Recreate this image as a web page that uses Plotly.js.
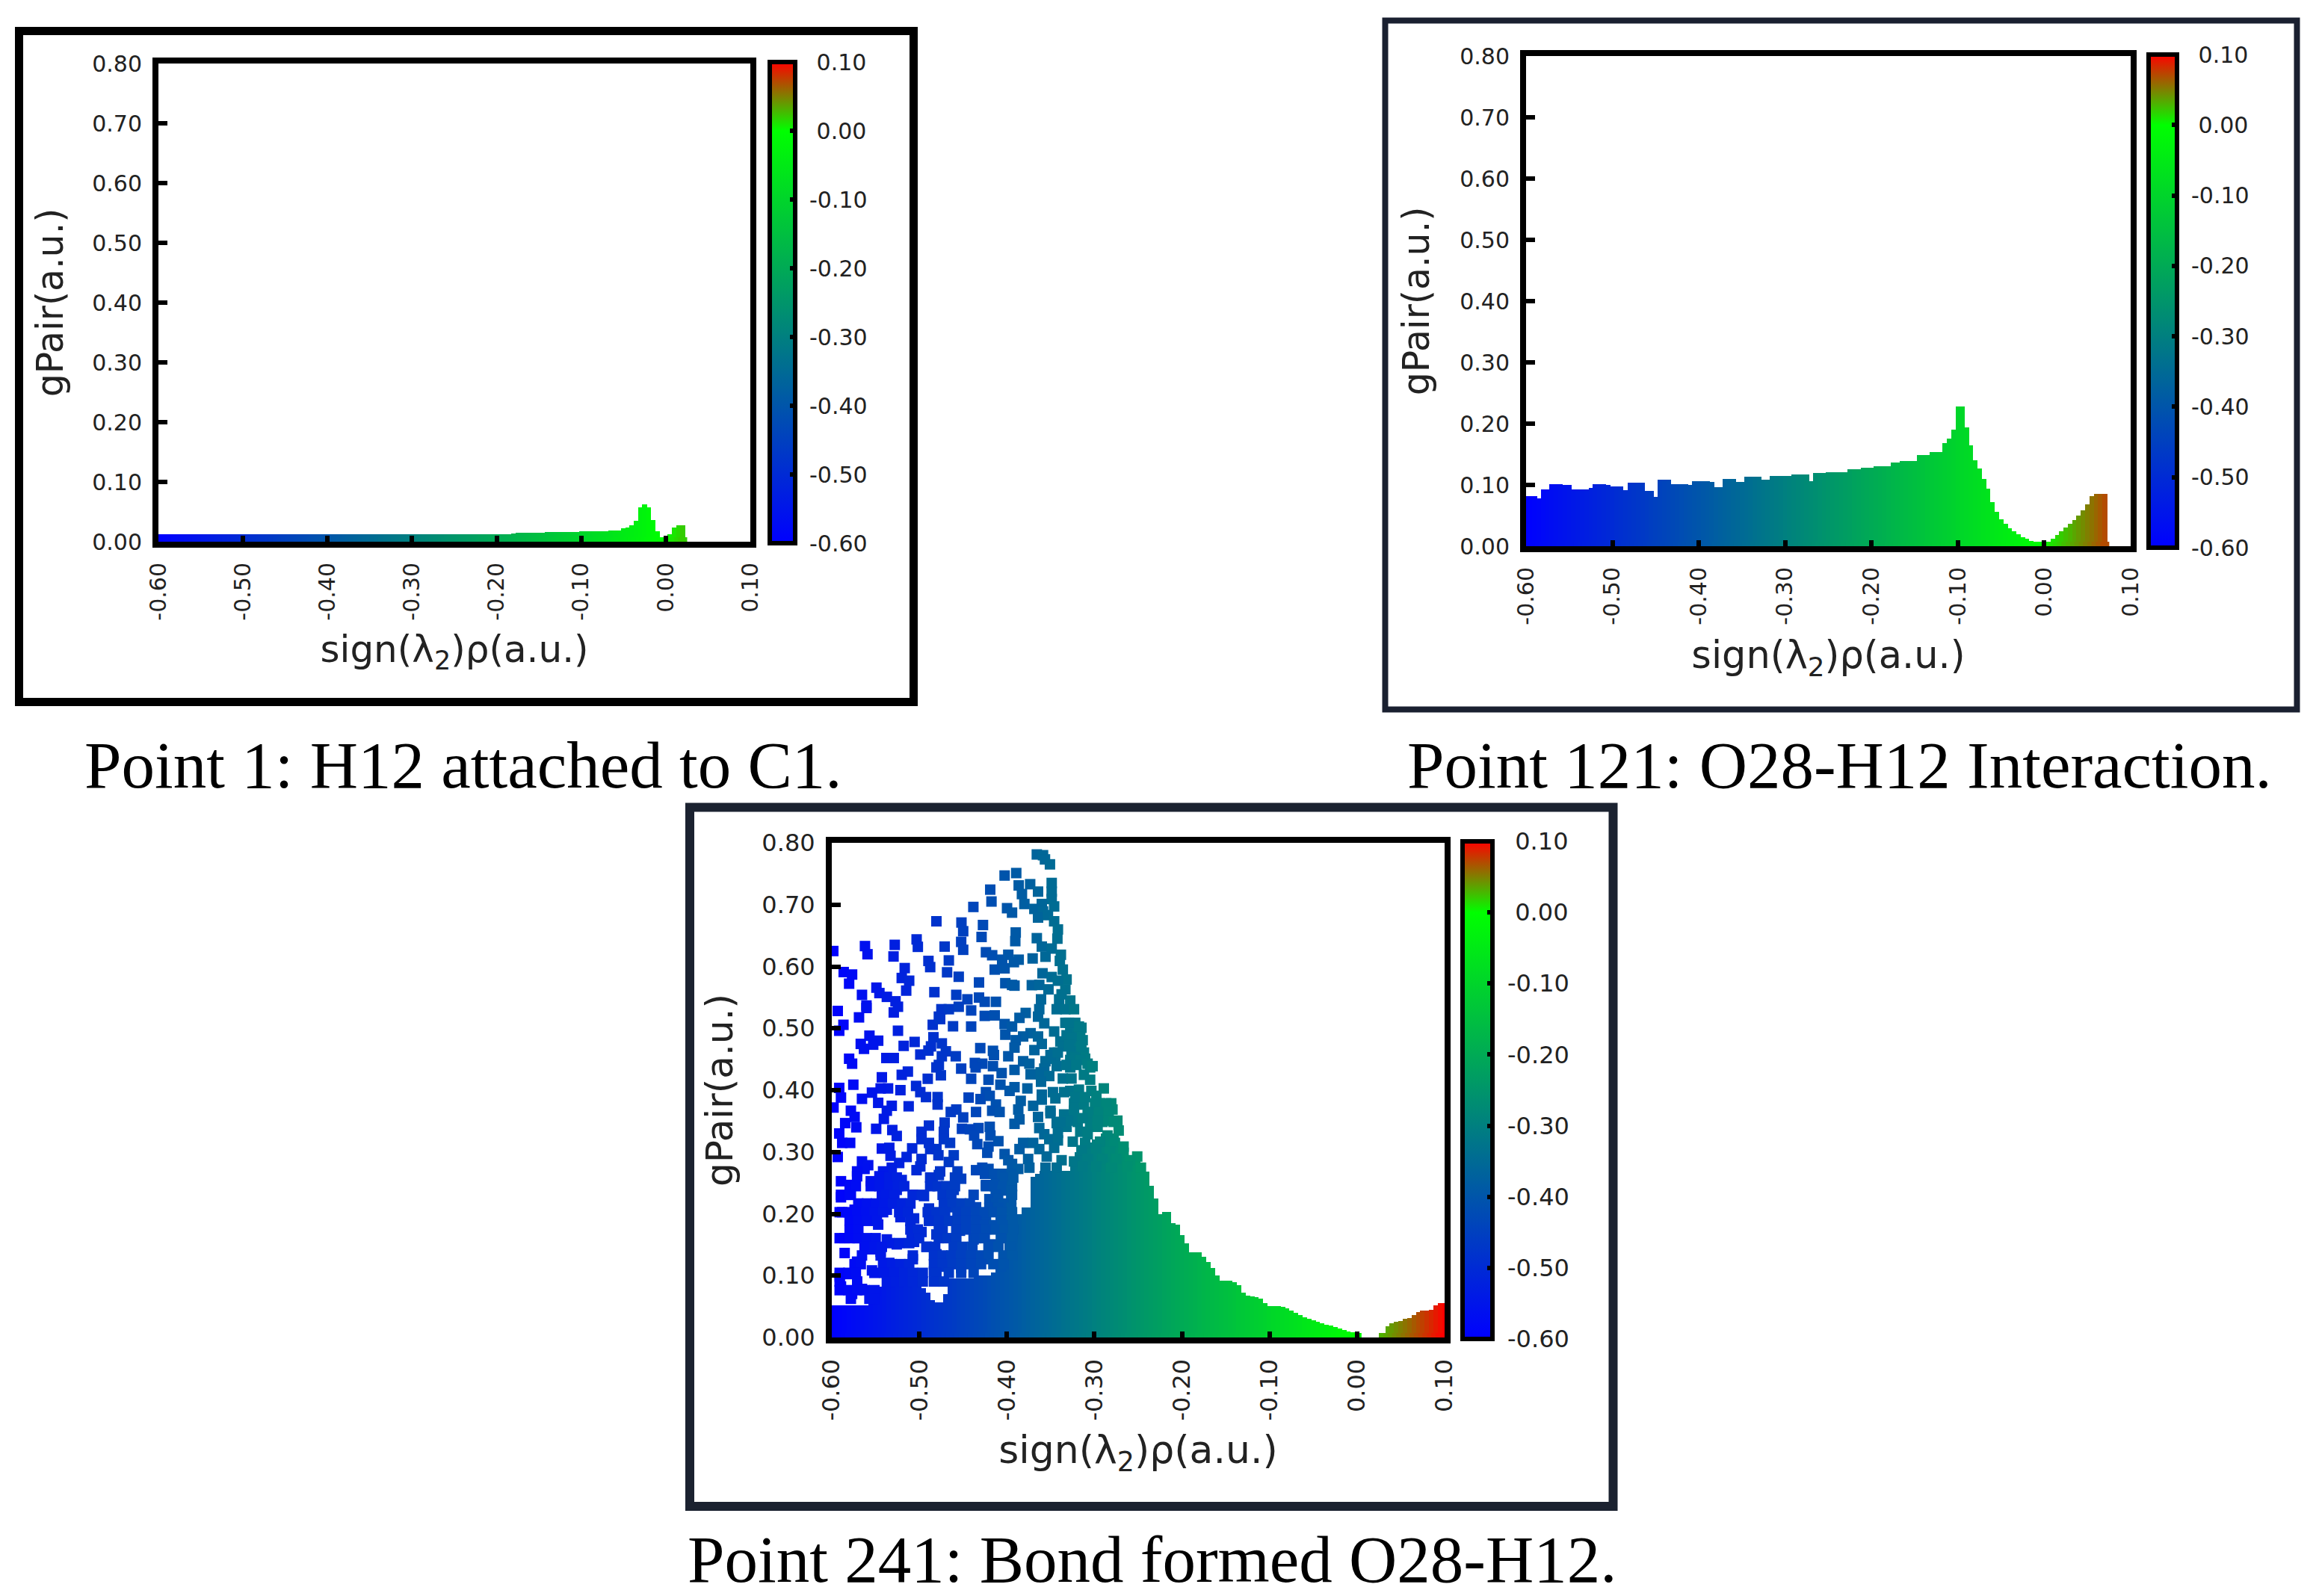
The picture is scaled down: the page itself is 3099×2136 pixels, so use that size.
<!DOCTYPE html>
<html>
<head>
<meta charset="utf-8">
<script src="https://cdn.plot.ly/plotly-3.0.1.min.js"></script>
<style>html,body{margin:0;padding:0;background:#fff}</style>
</head>
<body>
<div id="chart" style="width:3099px;height:2136px"></div>
<script>
// Density column positions, sign(lambda2)rho (a.u.)
var rhoGrid = [
-0.6,-0.595,-0.59,-0.585,-0.58,-0.575,-0.57,-0.565,-0.56,-0.555,
-0.55,-0.545,-0.54,-0.535,-0.53,-0.525,-0.52,-0.515,-0.51,-0.505,
-0.5,-0.495,-0.49,-0.485,-0.48,-0.475,-0.47,-0.465,-0.46,-0.455,
-0.45,-0.445,-0.44,-0.435,-0.43,-0.425,-0.42,-0.415,-0.41,-0.405,
-0.4,-0.395,-0.39,-0.385,-0.38,-0.375,-0.37,-0.365,-0.36,-0.355,
-0.35,-0.345,-0.34,-0.335,-0.33,-0.325,-0.32,-0.315,-0.31,-0.305,
-0.3,-0.295,-0.29,-0.285,-0.28,-0.275,-0.27,-0.265,-0.26,-0.255,
-0.25,-0.245,-0.24,-0.235,-0.23,-0.225,-0.22,-0.215,-0.21,-0.205,
-0.2,-0.195,-0.19,-0.185,-0.18,-0.175,-0.17,-0.165,-0.16,-0.155,
-0.15,-0.145,-0.14,-0.135,-0.13,-0.125,-0.12,-0.115,-0.11,-0.105,
-0.1,-0.095,-0.09,-0.085,-0.08,-0.075,-0.07,-0.065,-0.06,-0.055,
-0.05,-0.045,-0.04,-0.035,-0.03,-0.025,-0.02,-0.015,-0.01,-0.005,
0,0.005,0.01,0.015,0.02,0.025,0.03,0.035,0.04,0.045,
0.05,0.055,0.06,0.065,0.07,0.075,0.08,0.085,0.09,0.095,
0.1,0.105];

// Panel "Point 1": top of the filled gPair band per column
var gPairPoint1 = [
.012,.012,.012,.013,.013,.013,.012,.012,.012,.012,
.012,.012,.012,.012,.012,.012,.012,.012,.012,.012,
.012,.012,.012,.012,.012,.013,.013,.012,.012,.012,
.012,.012,.012,.012,.012,.012,.012,.012,.012,.012,
.012,.012,.012,.012,.012,.012,.012,.012,.012,.012,
.012,.012,.012,.012,.012,.012,.012,.012,.012,.012,
.012,.012,.012,.012,.012,.012,.012,.012,.012,.012,
.012,.012,.012,.012,.012,.012,.012,.012,.012,.012,
.012,.012,.013,.013,.014,.015,.015,.015,.015,.015,
.015,.015,.016,.016,.016,.016,.016,.016,.016,.016,
.017,.017,.018,.018,.018,.018,.018,.019,.019,.019,
.022,.024,.027,.035,.058,.062,.058,.036,.018,.006,
0,.012,.024,.027,.027,null,null,null,null,null,
null,null,null,null,null,null,null,null,null,null,
null,null];

// Panel "Point 121": top of the filled gPair band per column
var gPairPoint121 = [
.082,.082,.082,.078,.093,.093,.101,.101,.101,.1,
.1,.093,.093,.093,.093,.095,.101,.101,.101,.1,
.098,.097,.097,.092,.104,.104,.104,.104,.09,.09,
.08,.108,.108,.108,.101,.101,.101,.101,.1,.106,
.106,.106,.106,.105,.096,.096,.11,.11,.11,.105,
.105,.113,.113,.113,.113,.109,.109,.115,.115,.115,
.115,.115,.117,.117,.117,.117,.106,.12,.12,.12,
.121,.121,.121,.121,.121,.126,.126,.126,.128,.128,
.128,.13,.13,.13,.13,.136,.136,.139,.139,.139,
.139,.149,.149,.149,.154,.154,.154,.168,.176,.19,
.228,.228,.194,.165,.14,.127,.11,.094,.072,.056,
.044,.036,.029,.024,.019,.015,.012,.009,.007,.004,
0,.006,.012,.018,.024,.03,.036,.043,.05,.058,
.068,.082,.085,.085,.085,null,null,null,null,null,
null,null];

// Panel "Point 241": solid part of the gPair cloud per column
var gPairPoint241 = [
.052,.052,.052,.052,.052,.052,.052,.052,.052,.075,
.082,.082,.082,.082,.082,.082,.082,.082,.082,.082,
.082,.08,.072,.06,.057,.057,.07,.095,.095,.095,
.095,.095,.095,.1,.1,.1,.1,.105,.12,.13,
.16,.17,.2,.2,.21,.21,.26,.265,.27,.27,
.27,.27,.27,.27,.27,.29,.3,.31,.31,.315,
.32,.325,.33,.33,.33,.33,.31,.3,.295,.29,
.285,.272,.268,.245,.225,.2,.203,.203,.185,.183,
.165,.152,.138,.138,.138,.13,.122,.112,.1,.092,
.092,.092,.09,.085,.072,.068,.066,.065,.063,.055,
.051,.051,.051,.05,.047,.043,.04,.036,.033,.03,
.028,.025,.023,.021,.019,.017,.014,.012,.01,.008,
.005,null,null,null,null,null,.005,.018,.023,.025,
.027,.03,.032,.036,.041,.043,.044,.045,.052,.056,
.056,.056];

// Panel "Point 241": individually visible points [rho, gPair]
var pointsPoint241 = [
[-.4026,.7471],[-.3893,.7511],[-.419,.7243],[-.4176,.7051],[-.4383,.6963],[-.3998,.6943],[-.3941,.6871],[-.4805,.6731],
[-.4519,.6711],[-.4273,.6671],[-.4499,.657],[-.4289,.6478],[-.3899,.655],[-.4522,.6398],[-.4499,.627],[-.4711,.6322],
[-.5031,.6438],[-.5017,.6318],[-.5281,.635],[-.5621,.633],[-.5592,.6198],[-.5983,.625],[-.5295,.6162],[-.4896,.609],
[-.4876,.599],[-.4663,.6098],[-.4239,.623],[-.4168,.6182],[-.5167,.5974],[-.4683,.5906],[-.4139,.595],[-.4026,.597],
[-.4054,.611],[-.3984,.619],[-.5864,.591],[-.5768,.587],[-.5802,.5722],[-.455,.5834],[-.5201,.5814],[-.5116,.577],
[-.4318,.5742],[-.4018,.573],[-.3941,.5702],[-.549,.5658],[-.5456,.557],[-.5371,.5509],[-.5272,.5437],[-.515,.561],
[-.4828,.5585],[-.4578,.5541],[-.4451,.5469],[-.4318,.5497],[-.4253,.5429],[-.4125,.5429],[-.5655,.5541],[-.5604,.5369],
[-.3658,.7812],[-.3587,.78],[-.3565,.7732],[-.3508,.7652],[-.3865,.7311],[-.3734,.7331],[-.3488,.7351],[-.3644,.7211],
[-.3828,.7171],[-.3488,.7211],[-.38,.7011],[-.3488,.7091],[-.3601,.7011],[-.346,.6971],[-.3686,.6931],[-.3587,.6891],
[-.3644,.6791],[-.3531,.6831],[-.346,.6731],[-.3417,.6599],[-.3904,.641],[-.3658,.6458],[-.3423,.645],[-.3601,.6322],
[-.3488,.629],[-.3383,.619],[-.3559,.6158],[-.3865,.611],[-.3706,.613],[-.392,.607],[-.3395,.609],[-.3361,.595],
[-.3593,.589],[-.3488,.583],[-.3318,.579],[-.3417,.577],[-.3913,.569],[-.3715,.5698],[-.363,.5702],[-.3525,.563],
[-.3332,.563],[-.361,.5469],[-.3403,.5469],[-.3276,.5449],[-.3375,.555],
[-.5932,.5281],[-.5604,.5329],[-.5689,.5177],[-.5292,.5257],[-.5244,.5349],[-.4748,.5309],[-.4663,.5309],[-.455,.5349],
[-.4408,.5289],[-.4777,.5189],[-.4253,.5201],[-.4139,.5209],[-.4847,.5057],[-.4762,.5149],[-.4615,.5033],[-.4408,.5029],
[-.4026,.5069],[-.3941,.5029],[-.5867,.5057],[-.5915,.4961],[-.5244,.4961],[-.4018,.4897],[-.557,.4881],[-.547,.48],
[-.5669,.4748],[-.5527,.4736],[-.5632,.4668],[-.5054,.478],[-.4839,.4856],[-.4743,.4756],[-.5179,.4716],[-.4867,.4708],
[-.4304,.468],[-.4159,.4636],[-.4989,.4576],[-.4896,.464],[-.4697,.4628],[-.4148,.4568],[-.3984,.4548],[-.4584,.4548],
[-.4743,.4548],[-.5377,.452],[-.5292,.452],[-.5802,.4508],[-.5768,.4428],[-.4366,.444],[-.4281,.4428],[-.4777,.4408],
[-.4159,.4388],[-.4805,.4368],[-.4522,.4348],[-.4357,.4368],[-.5131,.43],[-.5201,.4248],[-.4754,.424],[-.406,.4276],
[-.5428,.4208],[-.4408,.4184],[-.4904,.4184],[-.421,.4168],[-.5754,.4088],[-.5915,.4036],[-.4074,.4088],[-.5037,.4068],
[-.5357,.4028],[-.5442,.4028],[-.5541,.396],[-.5216,.4],[-.4989,.3968],[-.4239,.3968],[-.3969,.3988],[-.5895,.388],
[-.5655,.386],[-.4924,.3888],[-.4791,.3888],[-.4437,.388],[-.4301,.3856],[-.4196,.3908],[-.547,.3795],[-.4791,.3767],
[-.4125,.3767],[-.5315,.3747],[-.5122,.3739],[-.598,.3719],[-.5371,.3667],[-.5782,.3667],[-.4578,.3687],[-.4641,.3647],
[-.4352,.3647],[-.4168,.3667],[-.4083,.3647],[-.5739,.3567],[-.4499,.3559],[-.5405,.3535],[-.5847,.3467],[-.4711,.3475],
[-.572,.3399],[-.5493,.3375],[-.489,.3427],[-.4513,.3375],[-.472,.3327],[-.4196,.3407],[-.4324,.3387],[-.4423,.3367],
[-.5309,.3355],[-.5915,.3299],[-.5258,.3259],[-.4975,.3327],[-.4374,.3267],[-.472,.3207],[-.4188,.3267],[-.4975,.3207],
[-.5881,.3147],[-.579,.3147],[-.489,.3147],[-.4649,.3147],[-.4097,.3175],[-.4338,.3127],[-.421,.3087],[-.5428,.3055],
[-.5343,.3067],[-.5082,.3059],[-.4805,.3047],[-.4876,.3047],[-.4224,.2987],[-.4026,.2967],[-.5329,.2939],[-.4782,.2947],
[-.4607,.2947],[-.5932,.2919],[-.5145,.2919],[-.3984,.2867],[-.4975,.2887],[-.5655,.2847],[-.4663,.2838],[-.3941,.2807],
[-.5584,.2786],[-.523,.2822],[-.4989,.2766],[-.5315,.2746],[-.4281,.2746],[-.5626,.2726],[-.5711,.2686],[-.5414,.2686],
[-.5032,.2706],[-.4762,.2686],[-.4564,.2686],[-.4352,.2706],[-.421,.2726],
[-.3431,.5309],[-.3332,.5309],[-.3233,.5309],[-.3785,.5249],[-.3856,.5169],[-.363,.5309],[-.3644,.5189],[-.3573,.5081],
[-.3332,.5089],[-.3219,.5089],[-.3148,.5009],[-.346,.4949],[-.3219,.4949],[-.3729,.4921],[-.3644,.4868],[-.3814,.4868],
[-.3899,.4808],[-.3601,.4748],[-.3389,.4788],[-.3219,.4768],[-.3134,.4808],[-.3913,.4688],[-.3686,.4648],[-.3191,.4648],
[-.346,.4608],[-.3262,.4628],[-.312,.4608],[-.3446,.4508],[-.3814,.4468],[-.3743,.4428],[-.3559,.4468],[-.3276,.4488],
[-.3106,.4508],[-.3913,.4328],[-.3573,.4348],[-.3431,.4388],[-.3276,.4368],[-.3049,.4368],[-.3729,.4256],[-.3615,.4288],
[-.3516,.4228],[-.3361,.4188],[-.3262,.4188],[-.3049,.4168],[-.312,.4248],[-.361,.4136],[-.3913,.4048],[-.3766,.4028],
[-.3276,.3988],[-.3177,.4008],[-.3035,.3988],[-.2893,.4028],[-.3601,.3927],[-.3474,.3968],[-.3346,.3968],[-.3842,.3827],
[-.3601,.3847],[-.3446,.3867],[-.2978,.3908],[-.3233,.3787],[-.387,.3687],[-.37,.3747],[-.3502,.3667],[-.312,.3767],
[-.2936,.3787],[-.2808,.3787],[-.2794,.3687],[-.3346,.3607],[-.3644,.3567],[-.3502,.3627],[-.3856,.3527],[-.3233,.3667],
[-.3077,.3607],[-.2738,.3507],[-.3913,.3455],[-.3431,.3467],[-.3191,.3487],[-.3049,.3447],[-.2908,.3487],[-.363,.3387],
[-.3318,.3407],[-.3162,.3327],[-.2964,.3407],[-.2723,.3347],[-.3573,.3287],[-.3417,.3307],[-.3077,.3287],[-.2851,.3267],
[-.3814,.3147],[-.37,.3147],[-.3516,.3207],[-.3417,.3187],[-.3247,.3167],[-.3106,.3147],[-.2936,.3167],[-.2766,.3147],
[-.2667,.3087],[-.3856,.3047],[-.363,.3047],[-.346,.3067],[-.3148,.3027],[-.2978,.3047],[-.2823,.3007],[-.2667,.2987],
[-.2511,.2927],[-.3757,.2887],[-.3545,.2927],[-.3375,.2867],[-.3233,.2847],[-.3077,.2887],[-.2908,.2887],[-.2752,.2887],
[-.2596,.2867],[-.2469,.2746],[-.3743,.2746],[-.387,.2726],[-.3559,.2746],[-.3431,.2746],[-.3134,.2766],[-.2978,.2766],
[-.2808,.2746],[-.2624,.2766],
[-.5895,.2527],[-.5782,.2467],[-.5711,.2607],[-.5555,.2527],[-.5456,.2607],[-.5895,.2267],[-.5782,.2307],[-.5428,.2287],
[-.5258,.2387],[-.5201,.2547],[-.5074,.2307],[-.4947,.2287],[-.4847,.2487],[-.472,.2347],[-.4607,.2387],[-.4522,.2567],
[-.4777,.2627],[-.5343,.2167],[-.5216,.2167],[-.5626,.2147],[-.5739,.2066],[-.5881,.2026],[-.5371,.2066],[-.5131,.2066],
[-.5584,.2006],[-.489,.2086],[-.4593,.2106],[-.438,.2307],[-.4239,.2467],[-.4125,.2547],[-.3984,.2507],[-.4125,.2347],
[-.4012,.2146],[-.4352,.2106],[-.4479,.1986],[-.5768,.1946],[-.564,.1966],[-.547,.1826],[-.5216,.1946],[-.506,.1926],
[-.4862,.1906],[-.472,.1986],[-.455,.1866],[-.5739,.1766],[-.5074,.1706],[-.4975,.1706],[-.4734,.1726],[-.4536,.1726],
[-.5853,.1606],[-.5711,.1606],[-.557,.1586],[-.5371,.1586],[-.5258,.1506],[-.506,.1546],[-.4918,.1466],[-.4805,.1666],
[-.438,.1806],[-.4239,.1906],[-.4069,.1946],[-.3955,.1906],[-.4012,.1626],[-.4182,.1506],[-.438,.1586],[-.4593,.1526],
[-.5541,.1426],[-.5442,.1386],[-.5853,.1366],[-.5711,.1226],[-.5343,.1206],[-.5074,.1266],[-.5145,.1146],[-.4805,.1346],
[-.4607,.1306],[-.438,.1306],[-.5796,.1025],[-.5909,.0985],[-.5541,.1085],[-.54,.1065],[-.5895,.0825],[-.5655,.0785],
[-.5768,.0705],[-.5513,.0745],[-.5286,.0985],[-.5117,.0985],[-.4833,.1065],[-.4748,.1145],[-.4522,.1125],[-.4239,.1266],
[-.4069,.1145],
[-.3276,.4969],[-.3163,.4888],[-.3177,.5029],[-.329,.5089],[-.3318,.4888],[-.3262,.4848],[-.3361,.4708],[-.329,.4728],
[-.3149,.4708],[-.3219,.4528],[-.3163,.4488],[-.3078,.4428],[-.3021,.4388],[-.3318,.4408],[-.3205,.4408],[-.3502,.4568],
[-.3418,.4608],[-.3219,.3887],[-.3106,.3887],[-.2993,.3787],[-.2866,.3787],[-.305,.3647],[-.2951,.3647],[-.2838,.3647],
[-.2965,.3507],[-.2838,.3507],[-.2781,.3487],[-.3234,.3547],[-.3135,.3547],[-.3304,.3507],[-.3389,.3487]
];

// Panel "Point 241": further points in the denser band, read row by row [gPair, [rho...]]
var denseRowsPoint241 = [
[.2647,[-.425,-.415,-.405,-.395]],
[.2587,[-.5343,-.5258,-.4876,-.4593,-.4026,-.3927]],
[.2447,[-.5796,-.5725,-.5555,-.5456,-.5343,-.5244,-.5173,-.4876,-.4791,-.4692,-.4593,-.4239,-.4139,-.404,-.3941]],
[.2377,[-.405,-.395]],
[.2307,[-.5895,-.5796,-.5385,-.5286,-.5074,-.4975,-.4734,-.4635,-.4125,-.3941]],
[.2237,[-.42,-.41,-.395]],
[.2167,[-.5697,-.5598,-.5499,-.54,-.53,-.5201,-.5102,-.472,-.4621,-.4522,-.4423,-.4125,-.404]],
[.2097,[-.42,-.41,-.395]],
[.2026,[-.591,-.581,-.571,-.5612,-.5513,-.5414,-.523,-.5131,-.4904,-.4805,-.4706,-.4564,-.4465,-.4352,-.4253,-.4154,-.4054,-.3941]],
[.1886,[-.5796,-.5697,-.5598,-.5485,-.5102,-.489,-.4777,-.4663,-.4564,-.4465,-.4352,-.4069,-.3941]],
[.1816,[-.425,-.415,-.405]],
[.1746,[-.5796,-.5697,-.5102,-.5017,-.4777,-.4578,-.4465,-.4352,-.4239,-.4125,-.4026,-.3927]],
[.1606,[-.591,-.5796,-.5697,-.5598,-.5499,-.5088,-.5003,-.4777,-.4678,-.4578,-.4352,-.4253,-.4069,-.3941]],
[.1526,[-.5343,-.523,-.5116]],
[.1466,[-.5626,-.5513,-.5428,-.4918,-.4819,-.4607,-.4508,-.4394,-.421,-.4097,-.3955]],
[.1326,[-.5655,-.5442,-.5074,-.4833,-.4734,-.4635,-.4522,-.4408,-.4295,-.421,-.404,-.3941]],
[.1186,[-.574,-.5669,-.5414,-.5315,-.5216,-.5116,-.4833,-.4734,-.4621,-.4522,-.4408,-.4295,-.4154,-.404]],
[.1045,[-.591,-.581,-.5725,-.5513,-.54,-.5286,-.5173,-.5074,-.4961,-.4805,-.4663,-.4522,-.438]],
[.0905,[-.591,-.571,-.5371,-.5272,-.5173,-.5074,-.4961,-.4833,-.472]],
[.0765,[-.591,-.581,-.571,-.5626,-.5513]],
[.0625,[-.5782,-.557,-.5513]]
];

// Axes and labels
var xTickValues = [-0.6,-0.5,-0.4,-0.3,-0.2,-0.1,0,0.1];
var xTickLabels = ['-0.60','-0.50','-0.40','-0.30','-0.20','-0.10','0.00','0.10'];
var yTickValues = [0,0.1,0.2,0.3,0.4,0.5,0.6,0.7,0.8];
var yTickLabels = ['0.00','0.10','0.20','0.30','0.40','0.50','0.60','0.70','0.80'];
var cbTickValues = [-0.6,-0.5,-0.4,-0.3,-0.2,-0.1,0,0.1];
var cbTickLabels = ['\u00a0-0.60','\u00a0-0.50','\u00a0-0.40','\u00a0-0.30','\u00a0-0.20','\u00a0-0.10','\u00a0\u00a00.00','\u00a0\u00a00.10'];
var xTitle = 'sign(\u03bb<sub>2</sub>)\u03c1(a.u.)';
var yTitle = 'gPair(a.u.)';
var captions = ['Point 1: H12 attached to C1.','Point 121: O28-H12 Interaction.','Point 241: Bond formed O28-H12.'];
var rhoColors = [[0,'rgb(0,0,255)'],[6/7,'rgb(0,255,0)'],[1,'rgb(255,0,0)']];

var W = 3099, H = 2136, FONT = 'DejaVu Sans, sans-serif', INSET = 2;
var panels = [
 {heights:gPairPoint1,  plot:[210,1006,83,727],  frame:[25.5,1222.5,41.5,939.5], fw:11, fc:'#000000', cb:[1030,34], tick:30, xs:24, ys:26, xt:50, yt:49, cap:[620,1024]},
 {heights:gPairPoint121,plot:[2040,2853,73,733], frame:[1853.5,3073.5,27.5,949.5], fw:8, fc:'#1a2030', cb:[2875,38], tick:30, xs:26, ys:28, xt:51, yt:49, cap:[2461,1024]},
 {heights:gPairPoint241,plot:[1111,1935,1126,1792], frame:[923,2158.5,1080.5,2016], fw:12, fc:'#1b2230', cb:[1957,40], tick:32, xs:24, ys:26, xt:52, yt:50, cap:[1541,2087]}
];

var data = [], shapes = [], annotations = [];
var layout = {width:W, height:H, margin:{l:0,r:0,t:0,b:0,pad:0}, paper_bgcolor:'#fff', plot_bgcolor:'rgba(0,0,0,0)',
  showlegend:false, barmode:'overlay', bargap:0, font:{family:FONT,color:'#222'}};

panels.forEach(function(p,i){
  var n = i===0 ? '' : String(i+1);
  var xa = 'x'+n, ya = 'y'+n, ca = 'coloraxis'+n;
  var xs = [];
  rhoGrid.forEach(function(x,k){ if (p.heights[k]!==null && p.heights[k]>0){ xs.push(x); } });
  data.push({type:'bar', x:rhoGrid, y:p.heights, width:.0055, xaxis:xa, yaxis:ya, cliponaxis:false,
    marker:{color:rhoGrid, coloraxis:ca, line:{width:0}}, hoverinfo:'x+y'});
  // Bottom row of points, which straddles the x axis line
  data.push({type:'scatter', mode:'markers', x:xs, y:xs.map(function(){return 0;}), xaxis:xa, yaxis:ya, cliponaxis:false,
    marker:{symbol:'square', size:12, color:xs, coloraxis:ca, line:{width:0}}, hoverinfo:'x+y'});
  if (i===2){
    var all = pointsPoint241.slice();
    denseRowsPoint241.forEach(function(r){ r[1].forEach(function(x){ all.push([x,r[0]]); }); });
    var px = all.map(function(d){return d[0];}), py = all.map(function(d){return d[1];});
    data.push({type:'scatter', mode:'markers', x:px, y:py, xaxis:xa, yaxis:ya, cliponaxis:false,
      marker:{symbol:'square', size:14, color:px, coloraxis:ca, line:{width:0}}, hoverinfo:'x+y'});
  }
  var tf = {family:FONT, size:p.tick, color:'#222'};
  layout['xaxis'+n] = {domain:[(p.plot[0]+INSET)/W,(p.plot[1]-INSET)/W], anchor:ya, range:[-0.6,0.1], tickmode:'array', tickvals:xTickValues, ticktext:xTickLabels,
    tickangle:-90, ticks:'inside', ticklen:8, tickwidth:6, tickcolor:'#000', showline:true, linecolor:'#000', linewidth:8, mirror:true,
    showgrid:false, zeroline:false, tickfont:tf, ticklabelstandoff:8, layer:'above traces',
    title:{text:xTitle, font:{family:FONT,size:p.xt,color:'#222'}, standoff:p.xs}};
  layout['yaxis'+n] = {domain:[1-(p.plot[3]-INSET)/H,1-(p.plot[2]+INSET)/H], anchor:xa, range:[0,0.8], tickmode:'array', tickvals:yTickValues, ticktext:yTickLabels,
    ticks:'inside', ticklen:12, tickwidth:6, tickcolor:'#000', showline:true, linecolor:'#000', linewidth:8, mirror:true,
    showgrid:false, zeroline:false, tickfont:tf, ticklabelstandoff:8, layer:'above traces',
    title:{text:yTitle, font:{family:FONT,size:p.yt,color:'#222'}, standoff:p.ys}};
  layout[ca] = {cmin:-0.6, cmax:0.1, colorscale:rhoColors, colorbar:{
    x:p.cb[0]/W, xanchor:'left', xpad:0, ypad:0, thicknessmode:'pixels', thickness:p.cb[1], lenmode:'fraction', len:(p.plot[3]-p.plot[2])/H,
    y:1-(p.plot[2]+p.plot[3])/2/H, yanchor:'middle', outlinewidth:6, outlinecolor:'#000', borderwidth:0,
    tickmode:'array', tickvals:cbTickValues, ticktext:cbTickLabels, ticks:'inside', ticklen:10, tickwidth:6, tickcolor:'#000', tickfont:tf}};
  shapes.push({type:'rect', xref:'paper', yref:'paper', x0:p.frame[0]/W, x1:p.frame[1]/W, y0:1-p.frame[3]/H, y1:1-p.frame[2]/H,
    line:{color:p.fc,width:p.fw}, fillcolor:'rgba(0,0,0,0)', layer:'below'});
  annotations.push({xref:'paper', yref:'paper', x:p.cap[0]/W, y:1-p.cap[1]/H, xanchor:'center', yanchor:'middle', showarrow:false,
    text:captions[i], font:{family:'Liberation Serif, serif', size:89, color:'#000'}});
});
layout.shapes = shapes;
layout.annotations = annotations;
Plotly.newPlot('chart', data, layout, {displayModeBar:false, staticPlot:true});
</script>
</body>
</html>
